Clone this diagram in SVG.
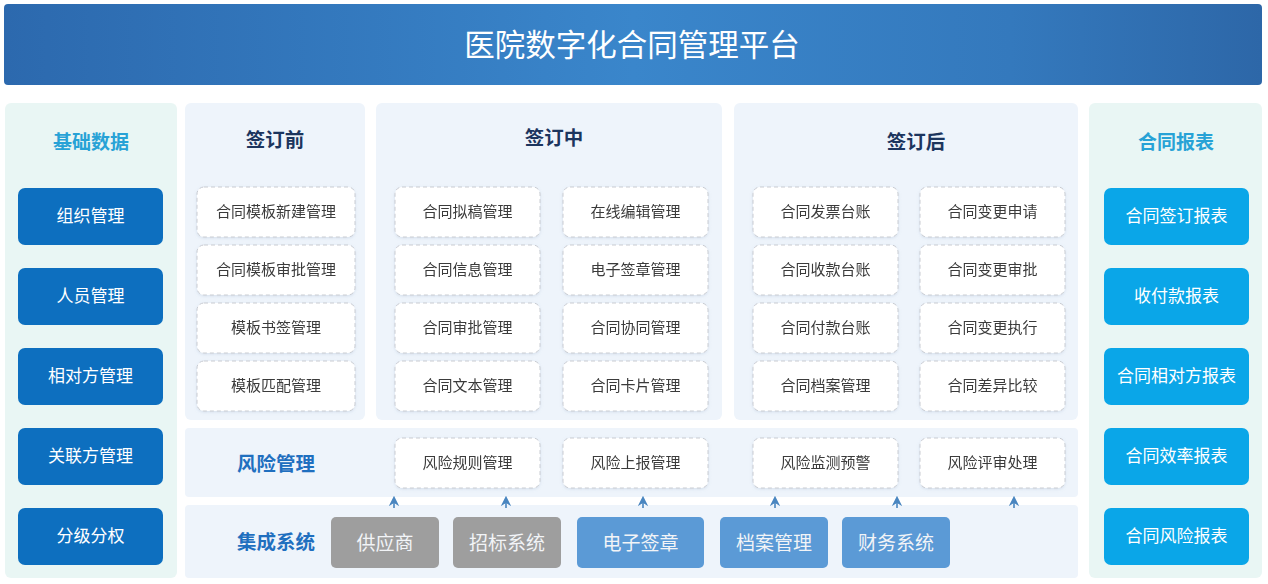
<svg xmlns="http://www.w3.org/2000/svg" width="1268" height="584" viewBox="0 0 1268 584">
<defs>
<linearGradient id="hdr" x1="0" y1="0" x2="1" y2="0">
<stop offset="0" stop-color="#2c69ae"/>
<stop offset="0.5" stop-color="#3a86cb"/>
<stop offset="0.8" stop-color="#3479bd"/>
<stop offset="1" stop-color="#2d67a8"/>
</linearGradient>
<filter id="sh" x="-10%" y="-10%" width="120%" height="130%">
<feDropShadow dx="0" dy="1" stdDeviation="1.5" flood-color="#8aa0c0" flood-opacity="0.25"/>
</filter>
<marker id="ar" viewBox="0 0 10 10" refX="4" refY="5" markerWidth="6.5" markerHeight="6.5" orient="auto">
<path d="M0,0 L10,5 L0,10 L3,5 Z" fill="#4a86c0"/>
</marker>
</defs>
<style>
text{font-family:"Noto Sans CJK SC","Noto Sans",sans-serif;text-anchor:middle;dominant-baseline:central}
.title{fill:#ffffff;font-size:30.5px}
.side{fill:#e9f6f4}
.panel{fill:#eef4fb}
.stitle{fill:#27a2d6;font-size:19px;font-weight:bold}
.ptitle{fill:#1c355e;font-size:19.5px;font-weight:bold}
.rtitle{fill:#1f6fbf;font-size:19.5px;font-weight:bold}
.lbtn{fill:#0d6fbf}
.rbtn{fill:#0aa6e8}
.btxt{fill:#ffffff;font-size:17px}
.box{fill:#ffffff;stroke:#c9ccd2;stroke-width:1;stroke-dasharray:4 3}
.boxt{fill:#3a3a3a;font-size:15px}
.gray{fill:#9e9e9e}
.blue{fill:#5b9ad6}
.itxt{fill:#f2f4f7;font-size:19px}
.arr{stroke:#4a86c0;stroke-width:1.6;fill:none}
</style>

<g id="header">
<rect x="4" y="4" width="1258" height="81" rx="4" fill="url(#hdr)"/>
<text class="title" x="632" y="43">医院数字化合同管理平台</text>
</g>

<g id="basic-data">
<rect class="side" x="5" y="103" width="172" height="475" rx="6"/>
<text class="stitle" x="91" y="140.5">基础数据</text>
<g id="org"><rect class="lbtn" x="18" y="188" width="145" height="57" rx="7"/><text class="btxt" x="90.5" y="214.5">组织管理</text></g>
<g id="staff"><rect class="lbtn" x="18" y="268" width="145" height="57" rx="7"/><text class="btxt" x="90.5" y="294.5">人员管理</text></g>
<g id="counterpart"><rect class="lbtn" x="18" y="348" width="145" height="57" rx="7"/><text class="btxt" x="90.5" y="374.5">相对方管理</text></g>
<g id="related"><rect class="lbtn" x="18" y="428" width="145" height="57" rx="7"/><text class="btxt" x="90.5" y="454.5">关联方管理</text></g>
<g id="auth"><rect class="lbtn" x="18" y="508" width="145" height="57" rx="7"/><text class="btxt" x="90.5" y="534.5">分级分权</text></g>
</g>

<g id="before">
<rect class="panel" x="185" y="103" width="180" height="317" rx="6"/>
<text class="ptitle" x="275" y="138.5">签订前</text>
<g id="b1" filter="url(#sh)"><rect class="box" x="197" y="187" width="158" height="50" rx="7"/><text class="boxt" x="276" y="210.5">合同模板新建管理</text></g>
<g id="b2" filter="url(#sh)"><rect class="box" x="197" y="245" width="158" height="50" rx="7"/><text class="boxt" x="276" y="268.5">合同模板审批管理</text></g>
<g id="b3" filter="url(#sh)"><rect class="box" x="197" y="303" width="158" height="50" rx="7"/><text class="boxt" x="276" y="326.5">模板书签管理</text></g>
<g id="b4" filter="url(#sh)"><rect class="box" x="197" y="361" width="158" height="50" rx="7"/><text class="boxt" x="276" y="384.5">模板匹配管理</text></g>
</g>

<g id="during">
<rect class="panel" x="376" y="103" width="346" height="317" rx="6"/>
<text class="ptitle" x="554" y="136.5">签订中</text>
<g id="d1" filter="url(#sh)"><rect class="box" x="395" y="187" width="145" height="50" rx="7"/><text class="boxt" x="467.5" y="210.5">合同拟稿管理</text></g>
<g id="d2" filter="url(#sh)"><rect class="box" x="395" y="245" width="145" height="50" rx="7"/><text class="boxt" x="467.5" y="268.5">合同信息管理</text></g>
<g id="d3" filter="url(#sh)"><rect class="box" x="395" y="303" width="145" height="50" rx="7"/><text class="boxt" x="467.5" y="326.5">合同审批管理</text></g>
<g id="d4" filter="url(#sh)"><rect class="box" x="395" y="361" width="145" height="50" rx="7"/><text class="boxt" x="467.5" y="384.5">合同文本管理</text></g>
<g id="d5" filter="url(#sh)"><rect class="box" x="563" y="187" width="145" height="50" rx="7"/><text class="boxt" x="635.5" y="210.5">在线编辑管理</text></g>
<g id="d6" filter="url(#sh)"><rect class="box" x="563" y="245" width="145" height="50" rx="7"/><text class="boxt" x="635.5" y="268.5">电子签章管理</text></g>
<g id="d7" filter="url(#sh)"><rect class="box" x="563" y="303" width="145" height="50" rx="7"/><text class="boxt" x="635.5" y="326.5">合同协同管理</text></g>
<g id="d8" filter="url(#sh)"><rect class="box" x="563" y="361" width="145" height="50" rx="7"/><text class="boxt" x="635.5" y="384.5">合同卡片管理</text></g>
</g>

<g id="after">
<rect class="panel" x="734" y="103" width="344" height="317" rx="6"/>
<text class="ptitle" x="916" y="140.5">签订后</text>
<g id="a1" filter="url(#sh)"><rect class="box" x="753" y="187" width="145" height="50" rx="7"/><text class="boxt" x="825.5" y="210.5">合同发票台账</text></g>
<g id="a2" filter="url(#sh)"><rect class="box" x="753" y="245" width="145" height="50" rx="7"/><text class="boxt" x="825.5" y="268.5">合同收款台账</text></g>
<g id="a3" filter="url(#sh)"><rect class="box" x="753" y="303" width="145" height="50" rx="7"/><text class="boxt" x="825.5" y="326.5">合同付款台账</text></g>
<g id="a4" filter="url(#sh)"><rect class="box" x="753" y="361" width="145" height="50" rx="7"/><text class="boxt" x="825.5" y="384.5">合同档案管理</text></g>
<g id="a5" filter="url(#sh)"><rect class="box" x="920" y="187" width="145" height="50" rx="7"/><text class="boxt" x="992.5" y="210.5">合同变更申请</text></g>
<g id="a6" filter="url(#sh)"><rect class="box" x="920" y="245" width="145" height="50" rx="7"/><text class="boxt" x="992.5" y="268.5">合同变更审批</text></g>
<g id="a7" filter="url(#sh)"><rect class="box" x="920" y="303" width="145" height="50" rx="7"/><text class="boxt" x="992.5" y="326.5">合同变更执行</text></g>
<g id="a8" filter="url(#sh)"><rect class="box" x="920" y="361" width="145" height="50" rx="7"/><text class="boxt" x="992.5" y="384.5">合同差异比较</text></g>
</g>

<g id="reports">
<rect class="side" x="1089" y="103" width="173" height="475" rx="6"/>
<text class="stitle" x="1176" y="140.5">合同报表</text>
<g id="r1"><rect class="rbtn" x="1104" y="188" width="145" height="57" rx="7"/><text class="btxt" x="1176.5" y="214.5">合同签订报表</text></g>
<g id="r2"><rect class="rbtn" x="1104" y="268" width="145" height="57" rx="7"/><text class="btxt" x="1176.5" y="294.5">收付款报表</text></g>
<g id="r3"><rect class="rbtn" x="1104" y="348" width="145" height="57" rx="7"/><text class="btxt" x="1176.5" y="374.5">合同相对方报表</text></g>
<g id="r4"><rect class="rbtn" x="1104" y="428" width="145" height="57" rx="7"/><text class="btxt" x="1176.5" y="454.5">合同效率报表</text></g>
<g id="r5"><rect class="rbtn" x="1104" y="508" width="145" height="57" rx="7"/><text class="btxt" x="1176.5" y="534.5">合同风险报表</text></g>
</g>

<g id="risk">
<rect class="panel" x="185" y="428" width="893" height="69" rx="4"/>
<text class="rtitle" x="276" y="462">风险管理</text>
<g id="k1" filter="url(#sh)"><rect class="box" x="395" y="438" width="145" height="50" rx="7"/><text class="boxt" x="467.5" y="461.5">风险规则管理</text></g>
<g id="k2" filter="url(#sh)"><rect class="box" x="563" y="438" width="145" height="50" rx="7"/><text class="boxt" x="635.5" y="461.5">风险上报管理</text></g>
<g id="k3" filter="url(#sh)"><rect class="box" x="753" y="438" width="145" height="50" rx="7"/><text class="boxt" x="825.5" y="461.5">风险监测预警</text></g>
<g id="k4" filter="url(#sh)"><rect class="box" x="920" y="438" width="145" height="50" rx="7"/><text class="boxt" x="992.5" y="461.5">风险评审处理</text></g>
</g>

<g id="integration">
<rect class="panel" x="185" y="505" width="893" height="73" rx="4"/>
<text class="rtitle" x="276" y="540">集成系统</text>
<g id="i1"><rect class="gray" x="331" y="517" width="108" height="51" rx="5"/><text class="itxt" x="385" y="541">供应商</text></g>
<g id="i2"><rect class="gray" x="453" y="517" width="108" height="51" rx="5"/><text class="itxt" x="507" y="541">招标系统</text></g>
<g id="i3"><rect class="blue" x="577" y="517" width="127" height="51" rx="5"/><text class="itxt" x="640.5" y="541">电子签章</text></g>
<g id="i4"><rect class="blue" x="720" y="517" width="108" height="51" rx="5"/><text class="itxt" x="774" y="541">档案管理</text></g>
<g id="i5"><rect class="blue" x="842" y="517" width="108" height="51" rx="5"/><text class="itxt" x="896" y="541">财务系统</text></g>
</g>

<g id="connectors">
<line class="arr" x1="394" y1="508" x2="394" y2="502" marker-end="url(#ar)"/>
<line class="arr" x1="506" y1="508" x2="506" y2="502" marker-end="url(#ar)"/>
<line class="arr" x1="643" y1="508" x2="643" y2="502" marker-end="url(#ar)"/>
<line class="arr" x1="775" y1="508" x2="775" y2="502" marker-end="url(#ar)"/>
<line class="arr" x1="897" y1="508" x2="897" y2="502" marker-end="url(#ar)"/>
<line class="arr" x1="1014" y1="508" x2="1014" y2="502" marker-end="url(#ar)"/>
</g>
</svg>
